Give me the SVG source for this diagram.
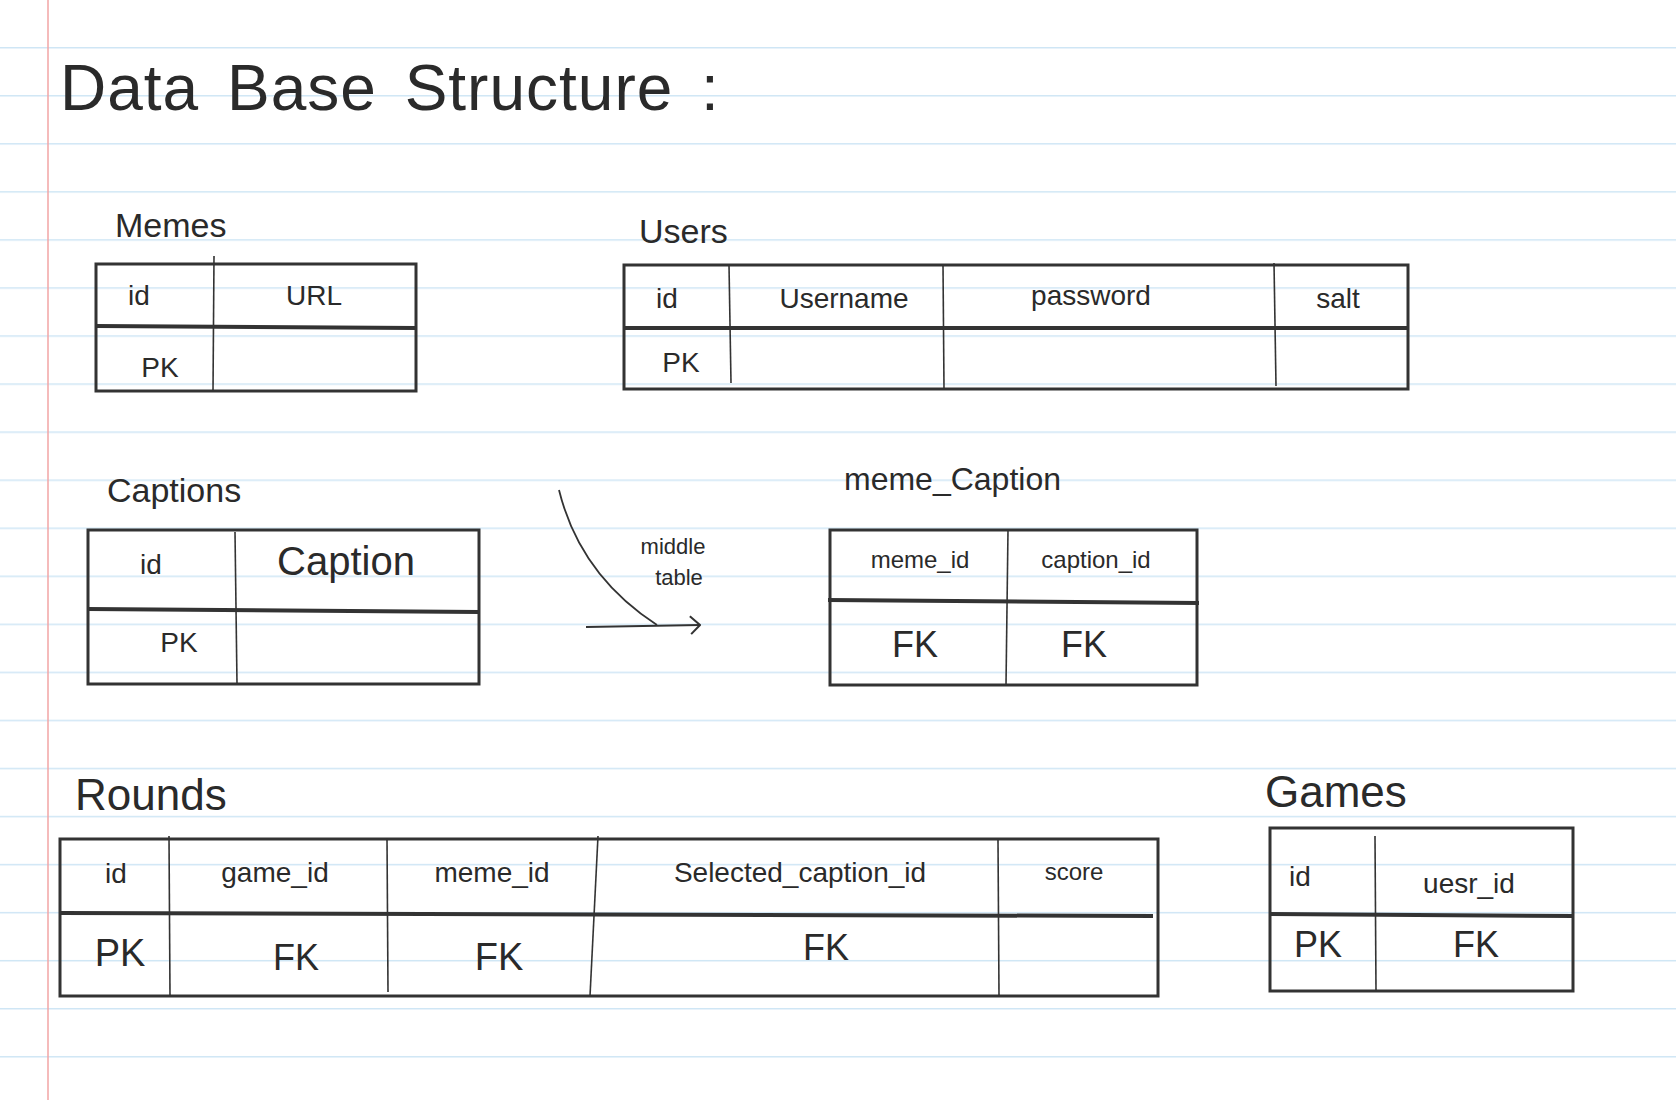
<svg xmlns="http://www.w3.org/2000/svg" width="1676" height="1100" viewBox="0 0 1676 1100">
<defs>
<pattern id="rules" x="0" y="47" width="1676" height="48.05" patternUnits="userSpaceOnUse">
<line x1="0" y1="0.75" x2="1676" y2="0.75" stroke="#cfe6f5" stroke-width="1.5"/>
</pattern>
<marker id="chev" viewBox="0 0 12 20" refX="11" refY="10" markerWidth="12" markerHeight="20" markerUnits="userSpaceOnUse" orient="auto">
<path d="M1,1 L11,10 L2,19" fill="none" stroke="#333" stroke-width="2"/>
</marker>
</defs>
<style>
text{font-family:"Liberation Sans","DejaVu Sans",sans-serif;fill:#2a2a2a;}
.t{font-size:34px;}
.h{font-size:28px;text-anchor:middle;}
.s{font-size:22px;text-anchor:middle;}
.v{font-size:30px;text-anchor:middle;}
.box{fill:none;stroke:#333;stroke-width:3;}
.hd{stroke:#333;stroke-width:4;}
.col{stroke:#333;stroke-width:1.6;}
</style>
<rect width="1676" height="1100" fill="#ffffff"/>
<rect x="0" y="47" width="1676" height="1053" fill="url(#rules)"/>
<line x1="48" y1="0" x2="48" y2="1100" stroke="#f2a5a5" stroke-width="1.5"/>

<text x="60" y="110" style="font-size:64px;word-spacing:9px;letter-spacing:1px">Data Base Structure :</text>

<g id="memes">
<text class="t" x="115" y="237">Memes</text>
<rect class="box" x="96" y="264" width="320" height="127"/>
<line class="hd" x1="96" y1="326" x2="416" y2="328"/>
<line class="col" x1="214" y1="256" x2="213" y2="391"/>
<text class="h" x="139" y="305">id</text>
<text class="h" x="314" y="305">URL</text>
<text class="h" x="160" y="377">PK</text>
</g>

<g id="users">
<text class="t" x="639" y="243">Users</text>
<rect class="box" x="624" y="265" width="784" height="124"/>
<line class="hd" x1="624" y1="328" x2="1408" y2="328"/>
<line class="col" x1="729" y1="265" x2="731" y2="383"/>
<line class="col" x1="943" y1="265" x2="944" y2="389"/>
<line class="col" x1="1274" y1="263" x2="1276" y2="386"/>
<text class="h" x="667" y="308">id</text>
<text class="h" x="844" y="308">Username</text>
<text class="h" x="1091" y="305">password</text>
<text class="h" x="1338" y="308">salt</text>
<text class="h" x="681" y="372">PK</text>
</g>

<g id="captions">
<text class="t" x="107" y="502">Captions</text>
<rect class="box" x="88" y="530" width="391" height="154"/>
<line class="hd" x1="88" y1="609" x2="479" y2="612"/>
<line class="col" x1="235" y1="532" x2="237" y2="684"/>
<text class="h" x="151" y="574">id</text>
<text class="v" x="346" y="575" style="font-size:40px">Caption</text>
<text class="h" x="179" y="652">PK</text>
</g>

<g id="connectors">
<path d="M559,490 Q580,575 657,625" fill="none" stroke="#333" stroke-width="1.8"/>
<path d="M586,627 L700,625" fill="none" stroke="#333" stroke-width="2.2" marker-end="url(#chev)"/>
<text class="s" x="673" y="554">middle</text>
<text class="s" x="679" y="585">table</text>
</g>

<g id="meme_caption">
<text class="t" x="844" y="490" style="font-size:32px">meme_Caption</text>
<rect class="box" x="830" y="530" width="367" height="155"/>
<line class="hd" x1="828" y1="600" x2="1199" y2="603"/>
<line class="col" x1="1008" y1="530" x2="1006" y2="685"/>
<text class="s" x="920" y="568" style="font-size:24px">meme_id</text>
<text class="s" x="1096" y="568" style="font-size:24px">caption_id</text>
<text class="v" x="915" y="657" style="font-size:36px">FK</text>
<text class="v" x="1084" y="657" style="font-size:36px">FK</text>
</g>

<g id="rounds">
<text class="t" x="75" y="810" style="font-size:44px">Rounds</text>
<rect class="box" x="60" y="839" width="1098" height="157"/>
<line class="hd" x1="60" y1="913" x2="1153" y2="916"/>
<line class="col" x1="169" y1="836" x2="170" y2="996"/>
<line class="col" x1="387" y1="838" x2="388" y2="992"/>
<line class="col" x1="598" y1="836" x2="590" y2="996"/>
<line class="col" x1="998" y1="840" x2="999" y2="996"/>
<text class="h" x="116" y="883">id</text>
<text class="h" x="275" y="882">game_id</text>
<text class="h" x="492" y="882">meme_id</text>
<text class="h" x="800" y="882">Selected_caption_id</text>
<text class="s" x="1074" y="880" style="font-size:24px">score</text>
<text class="v" x="120" y="966" style="font-size:38px">PK</text>
<text class="v" x="296" y="970" style="font-size:36px">FK</text>
<text class="v" x="499" y="970" style="font-size:38px">FK</text>
<text class="v" x="826" y="960" style="font-size:36px">FK</text>
</g>

<g id="games">
<text class="t" x="1265" y="807" style="font-size:44px">Games</text>
<rect class="box" x="1270" y="828" width="303" height="163"/>
<line class="hd" x1="1270" y1="914" x2="1573" y2="916"/>
<line class="col" x1="1375" y1="836" x2="1376" y2="991"/>
<text class="h" x="1300" y="886">id</text>
<text class="h" x="1469" y="893">uesr_id</text>
<text class="v" x="1318" y="957" style="font-size:36px">PK</text>
<text class="v" x="1476" y="957" style="font-size:36px">FK</text>
</g>
</svg>
